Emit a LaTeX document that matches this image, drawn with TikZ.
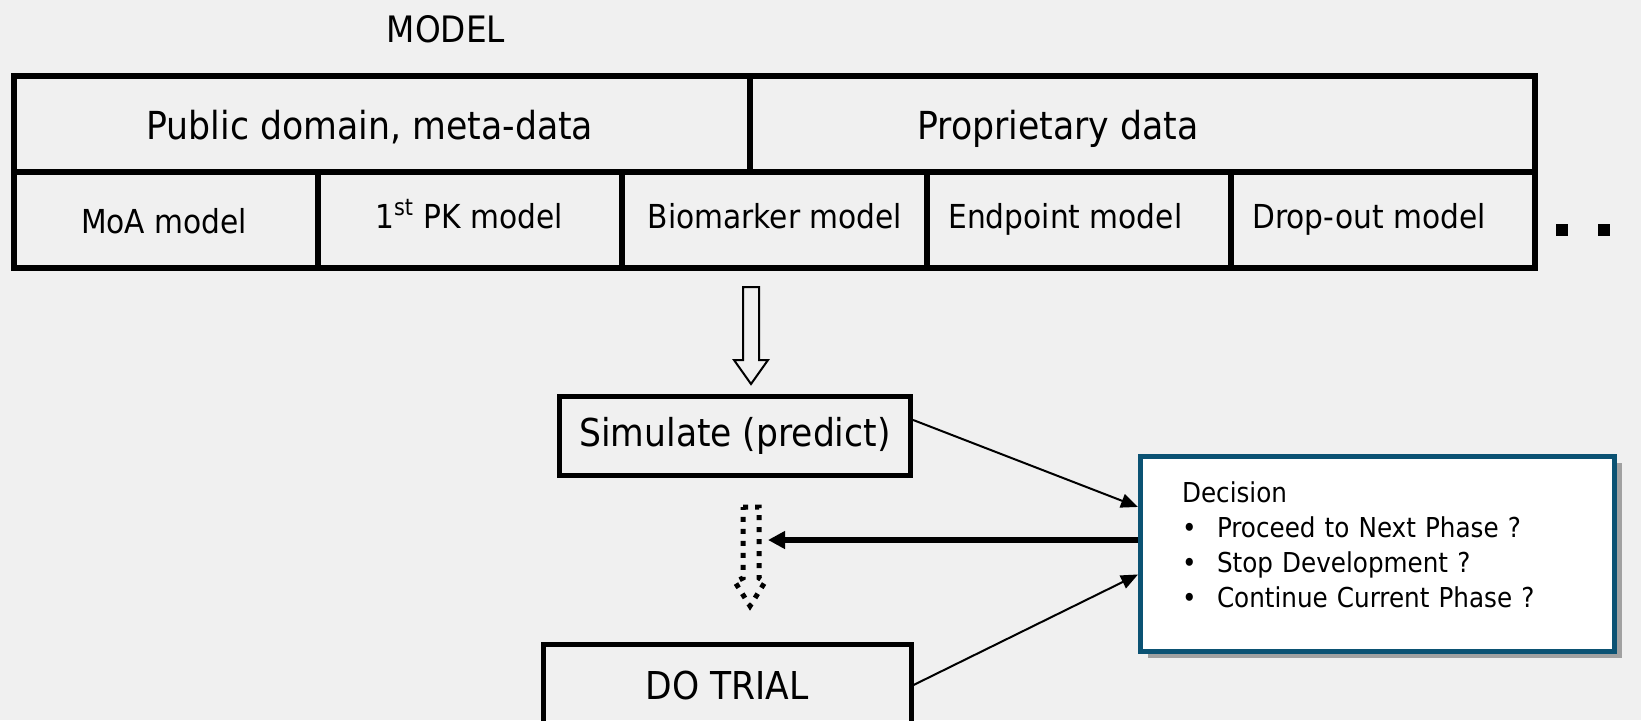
\documentclass[tikz,border=0pt]{standalone}
\usepackage{fontspec}
\setmainfont{DejaVu Sans Condensed}
\usepackage{tikz}
\usetikzlibrary{arrows.meta,shadows}
\definecolor{bggray}{HTML}{F0F0F0}
\definecolor{decblue}{HTML}{0B5273}

\begin{document}
\begin{tikzpicture}[x=0.5pt,y=-0.5pt,
    grid/.style={line width=3pt},
    titletext/.style={anchor=base, inner sep=0pt, font=\fontsize{18.2}{21}\selectfont},
    toptext/.style={anchor=base, inner sep=0pt, font=\fontsize{19.3}{22}\selectfont},
    celltext/.style={anchor=base, inner sep=0pt, font=\fontsize{16.5}{19}\selectfont},
    stepbox/.style={draw, line width=2.5pt, inner sep=0pt, font=\fontsize{19.2}{22}\selectfont},
    decbox/.style={draw=decblue, line width=2.5pt, fill=white, align=left,
      minimum width=237pt, minimum height=97.5pt, text width=195.5pt, inner xsep=20.75pt,
      text depth=61pt, font=\fontsize{13.7}{17.5}\selectfont,
      drop shadow={shadow xshift=3.5pt, shadow yshift=-3.5pt, fill=black!37, opacity=1}},
    conn/.style={line width=1pt, -{Triangle[length=8.5pt,width=7pt]}},
    dotsq/.style={fill, minimum size=6pt, inner sep=0pt}]

  \fill[bggray] (0,0) rectangle (1641,720);
  \useasboundingbox (0,0) rectangle (1641,720);

  % model table
  \node[titletext] (modeltitle) at (446,42) {MODEL};
  \draw[grid] (14,76) rectangle (1535,268);
  \draw[grid] (14,172) -- (1535,172);
  \draw[grid] (750,76) -- (750,172);
  \foreach \x in {318,622.4,926.6,1230.8}
    \draw[grid] (\x,172) -- (\x,268);

  \node[toptext] (public) at (370,139) {Public domain, meta-data};
  \node[toptext] (proprietary) at (1058,139) {Proprietary data};
  \node[celltext] (moa) at (164,233) {MoA model};
  \node[celltext] (pk) at (469,228) {1\textsuperscript{st} PK model};
  \node[celltext] (biomarker) at (775,228) {Biomarker model};
  \node[celltext, anchor=base west] (endpoint) at (948,228) {Endpoint model};
  \node[celltext, anchor=base west] (dropout) at (1252,228) {Drop-out model};
  \node[dotsq] (dotA) at (1562,230) {};
  \node[dotsq] (dotB) at (1604,230) {};

  % hollow arrows
  \draw[line width=1pt] (743,287) -- (759,287) -- (759,360) -- (768,360) -- (751,384)
    -- (734,360) -- (743,360) -- cycle;
  \draw[line width=2.5pt, dash pattern=on 2.5pt off 3.5pt] (743,507) -- (759,507) -- (759,578)
    -- (765,582) -- (750,606) -- (735,582) -- (743,578) -- cycle;
  \coordinate (dtip) at (768,540);

  \node[stepbox, minimum width=175.5pt, minimum height=39.5pt] (simulate) at (735,435.5) {Simulate (predict)};
  \node[stepbox, minimum width=184pt, minimum height=40.5pt] (trial) at (727,685) {DO TRIAL};

  \node[decbox] (decision) at (1377.5,553.5) {Decision\\
    \makebox[17.5pt][l]{\textbullet}Proceed to Next Phase ?\\
    \makebox[17.5pt][l]{\textbullet}Stop Development ?\\
    \makebox[17.5pt][l]{\textbullet}Continue Current Phase ?};

  \draw[conn] (simulate.5) -- (decision.169);
  \draw[conn] (trial.east) -- (decision.185);
  \draw[line width=3.3pt, -{Triangle[length=8.5pt,width=8.5pt]}] (decision.west |- dtip) -- (dtip);
\end{tikzpicture}
\end{document}
